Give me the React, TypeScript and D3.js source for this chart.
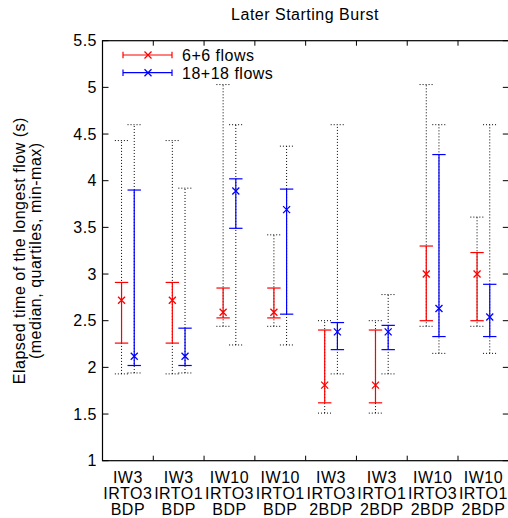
import React from "react";
import { scaleBand, scaleLinear, range } from "d3";

// category labels (three lines each)
const labelTop = ["IW3", "IW3", "IW10", "IW10", "IW3", "IW3", "IW10", "IW10"];
const labelMid = ["IRTO3", "IRTO1", "IRTO3", "IRTO1", "IRTO3", "IRTO1", "IRTO3", "IRTO1"];
const labelBot = ["BDP", "BDP", "BDP", "BDP", "2BDP", "2BDP", "2BDP", "2BDP"];

// 6+6 flows
const redMin = [1.93, 1.93, 2.44, 2.44, 1.51, 1.51, 2.44, 2.44];
const redQ1 = [2.26, 2.26, 2.53, 2.53, 1.62, 1.62, 2.5, 2.5];
const redMed = [2.72, 2.72, 2.59, 2.59, 1.81, 1.81, 3.0, 3.0];
const redQ3 = [2.91, 2.91, 2.85, 2.85, 2.4, 2.4, 3.3, 3.23];
const redMax = [4.43, 4.43, 5.03, 3.42, 2.5, 2.5, 5.03, 3.61];

// 18+18 flows
const blueMin = [1.94, 1.94, 2.24, 2.24, 1.93, 1.93, 2.15, 2.15];
const blueQ1 = [2.02, 2.02, 3.49, 2.57, 2.19, 2.19, 2.33, 2.33];
const blueMed = [2.12, 2.12, 3.89, 3.69, 2.38, 2.38, 2.63, 2.54];
const blueQ3 = [3.9, 2.42, 4.02, 3.91, 2.48, 2.45, 4.28, 2.89];
const blueMax = [4.6, 3.92, 4.6, 4.37, 4.6, 2.78, 4.6, 4.6];

const yTicks = range(1, 5.51, 0.5);

const W = 508;
const H = 518;
const left = 102.5;
const right = 508.8;
const top = 40.7;
const bottom = 460.7;
const FONT = "'Liberation Sans', Arial, sans-serif";

const series = [
  { name: "6+6 flows", color: "#ff0000", off: -0.125, min: redMin, q1: redQ1, med: redMed, q3: redQ3, max: redMax },
  { name: "18+18 flows", color: "#0000ff", off: 0.125, min: blueMin, q1: blueQ1, med: blueMed, q3: blueQ3, max: blueMax },
];

const Cross = ({ x, y, c }: { x: number; y: number; c: string }) => (
  <path d={`M${x - 3.5},${y - 3.5}L${x + 3.5},${y + 3.5}M${x - 3.5},${y + 3.5}L${x + 3.5},${y - 3.5}`} stroke={c} strokeWidth={1.3} />
);

export default function App() {
  const x = scaleBand<number>().domain(range(8)).range([left, right]).padding(0);
  const y = scaleLinear().domain([1, 5.5]).range([bottom, top]);
  const bw = x.bandwidth();
  const cap = 6.7;

  return (
    <svg width={W} height={H} style={{ position: "absolute", left: 0, top: 0 }} fontFamily={FONT}>
      <rect width={W} height={H} fill="#fff" />
      <text x={305} y={20} textAnchor="middle" fontSize={16} letterSpacing={0.5}>
        Later Starting Burst
      </text>

      {/* y ticks */}
      {yTicks.map((t) => (
        <g key={t}>
          <line x1={left} x2={left + 6} y1={y(t)} y2={y(t)} stroke="#000" />
          <line x1={right - 6} x2={right} y1={y(t)} y2={y(t)} stroke="#000" />
          <text x={97} y={y(t) + 5.5} textAnchor="end" fontSize={16} letterSpacing={0.5}>
            {String(t)}
          </text>
        </g>
      ))}

      {/* x ticks at category boundaries */}
      {range(1, 8).map((i) => (
        <g key={i}>
          <line x1={x(i)} x2={x(i)} y1={bottom} y2={bottom - 5} stroke="#000" />
          <line x1={x(i)} x2={x(i)} y1={top} y2={top + 5} stroke="#000" />
        </g>
      ))}
      {range(8).map((i) => {
        const cx = (x(i) as number) + bw / 2;
        return (
          <text key={i} textAnchor="middle" fontSize={16} letterSpacing={0.5}>
            <tspan x={cx} y={482.5}>{labelTop[i]}</tspan>
            <tspan x={cx} y={498.5}>{labelMid[i]}</tspan>
            <tspan x={cx} y={514.5}>{labelBot[i]}</tspan>
          </text>
        );
      })}

      {/* y label */}
      <g transform={`translate(25, ${(top + bottom) / 2}) rotate(-90)`}>
        <text textAnchor="middle" fontSize={16} letterSpacing={0.5}>
          Elapsed time of the longest flow (s)
        </text>
      </g>
      <g transform={`translate(41, ${(top + bottom) / 2}) rotate(-90)`}>
        <text textAnchor="middle" fontSize={16} letterSpacing={0.5}>
          (median, quartiles, min-max)
        </text>
      </g>

      {/* data */}
      {series.map((s) => (
        <g key={s.name}>
          {range(8).map((i) => {
            const cx = (x(i) as number) + bw / 2 + s.off * bw;
            return (
              <g key={i}>
                <g stroke="#000" strokeDasharray="1 2" strokeWidth={1}>
                  <line x1={cx} x2={cx} y1={y(s.min[i])} y2={y(s.max[i])} />
                  <line x1={cx - cap} x2={cx + cap} y1={y(s.min[i])} y2={y(s.min[i])} />
                  <line x1={cx - cap} x2={cx + cap} y1={y(s.max[i])} y2={y(s.max[i])} />
                </g>
                <g stroke={s.color} strokeWidth={1.2}>
                  <line x1={cx} x2={cx} y1={y(s.q1[i])} y2={y(s.q3[i])} />
                  <line x1={cx - cap} x2={cx + cap} y1={y(s.q1[i])} y2={y(s.q1[i])} />
                  <line x1={cx - cap} x2={cx + cap} y1={y(s.q3[i])} y2={y(s.q3[i])} />
                </g>
                <Cross x={cx} y={y(s.med[i])} c={s.color} />
              </g>
            );
          })}
        </g>
      ))}

      {/* legend */}
      {series.map((s, k) => {
        const ly = 55 + k * 17.7;
        return (
          <g key={s.name}>
            <g stroke={s.color} strokeWidth={1.2}>
              <line x1={123} x2={172} y1={ly} y2={ly} />
              <line x1={123} x2={123} y1={ly - 3.3} y2={ly + 3.3} />
              <line x1={172} x2={172} y1={ly - 3.3} y2={ly + 3.3} />
            </g>
            <Cross x={148} y={ly} c={s.color} />
            <text x={182} y={ly + 6} fontSize={16} letterSpacing={0.5}>
              {s.name}
            </text>
          </g>
        );
      })}

      {/* frame */}
      <rect x={left} y={top} width={right - left} height={bottom - top} fill="none" stroke="#000" strokeWidth={1.2} />
    </svg>
  );
}
